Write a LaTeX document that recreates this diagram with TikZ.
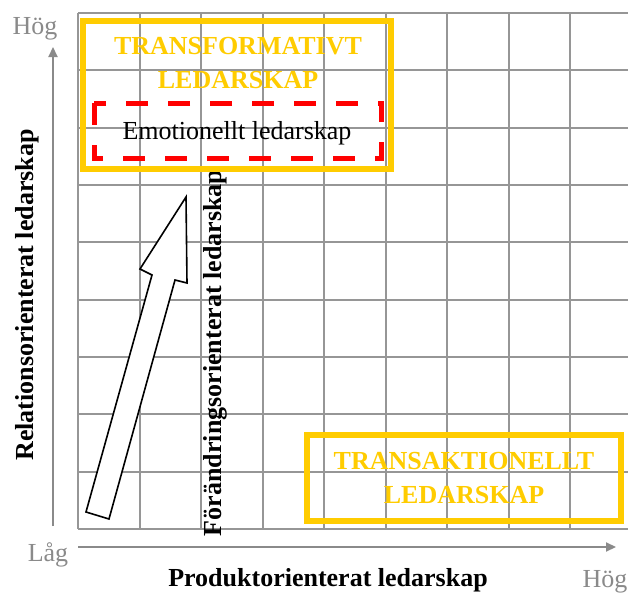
\documentclass[tikz,border=0pt]{standalone}
\usepackage{fontspec}
\setmainfont{Liberation Serif}
\usepackage{tikz}
\usetikzlibrary{arrows.meta, positioning, calc}
\definecolor{gridGray}{HTML}{969696}
\definecolor{axisGray}{HTML}{8A8A8A}
\definecolor{quadYellow}{HTML}{FFCC00}
\definecolor{emoRed}{HTML}{FF0000}

\begin{document}
\begin{tikzpicture}[x=0.5pt, y=-0.5pt, >={Triangle[length=5pt,width=4.5pt]},
  font=\fontsize{13}{17}\selectfont,
  gridline/.style={draw=gridGray, line width=1pt},
  axis/.style={->, draw=axisGray, line width=1.1pt},
  scalelabel/.style={text=axisGray, inner sep=0pt},
  axislabel/.style={font=\fontsize{13}{17}\selectfont\bfseries, inner sep=0pt},
  quadbox/.style={draw=quadYellow, line width=3pt},
  quadlabel/.style={text=quadYellow, font=\fontsize{13}{17}\selectfont\bfseries, align=center, inner sep=0pt}]
  \useasboundingbox (0,0) rectangle (628,594);

  % Grid
  \foreach \i in {0,...,8}
    \draw[gridline] ({78+61.5*\i},13) -- ({78+61.5*\i},529);
  \foreach \j in {0,...,9}
    \draw[gridline] (78,{13+57.33*\j}) -- (628,{13+57.33*\j});

  % Axes
  \coordinate (yFoot) at (53,526);
  \coordinate (yTop) at (53,47);
  \coordinate (xFoot) at (78,547);
  \coordinate (xTop) at (616,547);
  \draw[axis] (yFoot) -- (yTop);
  \draw[axis] (xFoot) -- (xTop);
  \node[scalelabel] (yHigh) at (35,29) {Hög};
  \node[scalelabel] (yLow) at (48,555) {Låg};
  \node[scalelabel] (xHigh) at (605,582) {Hög};
  \node[axislabel] (xTitle) at (328,580) {Produktorienterat ledarskap};
  \node[axislabel, rotate=90] (yTitle) at (27,295) {Relationsorienterat ledarskap};
  \node[axislabel, rotate=90] (chTitle) at (215,353) {Förändringsorienterat ledarskap};

  % Quadrants
  \draw[quadbox] (83,20.5) rectangle (391,169);
  \node[quadlabel] (transf) at (238,63) {TRANSFORMATIVT\\LEDARSKAP};
  \draw[draw=emoRed, line width=2.5pt, dash pattern=on 11pt off 10pt] (94,103) rectangle (381,158);
  \node[inner sep=0pt] (emo) at (237,133) {Emotionellt ledarskap};
  \draw[quadbox] (307,435) rectangle (621,521);
  \node[quadlabel] (transak) at (464,478) {TRANSAKTIONELLT\\LEDARSKAP};

  % Block arrow
  \draw[fill=white, line width=0.8pt, line join=miter]
    (86,512) -- (152,275) -- (140,269) -- (186,197) -- (187,283) -- (175,280) -- (109,519) -- cycle;
\end{tikzpicture}
\end{document}
